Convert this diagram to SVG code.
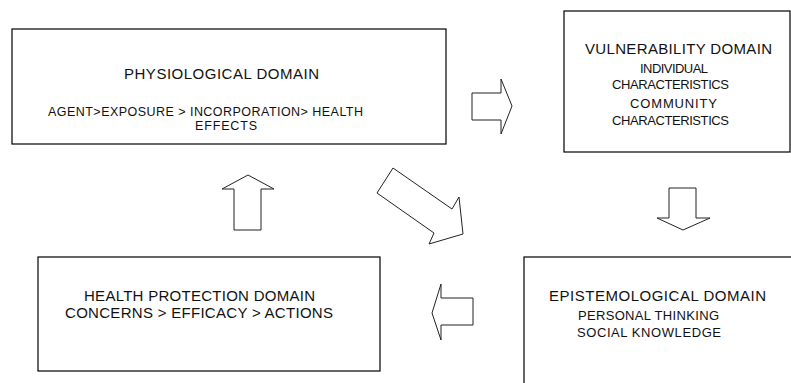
<svg xmlns="http://www.w3.org/2000/svg" width="791" height="383" viewBox="0 0 791 383">
<style>
.box{fill:#fff;stroke:#000;stroke-width:1.2}
.arr{fill:#fff;stroke:#222;stroke-width:1}
text{font-family:"Liberation Sans",Arial,sans-serif;fill:#111}
.t1{font-size:15px}
.t2{font-size:12.5px}
.t3{font-size:13px}
</style>
<rect width="791" height="383" fill="#fff"/>
<g id="physiological">
<rect class="box" x="12" y="29" width="434" height="115"/>
<text class="t1" x="124" y="79" textLength="195" lengthAdjust="spacing">PHYSIOLOGICAL DOMAIN</text>
<text class="t2" x="48" y="116" textLength="315" lengthAdjust="spacing">AGENT&gt;EXPOSURE &gt; INCORPORATION&gt; HEALTH</text>
<text class="t2" x="195" y="130" textLength="62" lengthAdjust="spacing">EFFECTS</text>
</g>
<g id="vulnerability">
<rect class="box" x="564" y="11" width="226" height="141"/>
<text class="t1" x="585" y="54" textLength="187" lengthAdjust="spacing">VULNERABILITY DOMAIN</text>
<text class="t3" x="640" y="73" textLength="68" lengthAdjust="spacing">INDIVIDUAL</text>
<text class="t3" x="612" y="89" textLength="117" lengthAdjust="spacing">CHARACTERISTICS</text>
<text class="t3" x="630" y="108" textLength="87" lengthAdjust="spacing">COMMUNITY</text>
<text class="t3" x="612" y="125" textLength="117" lengthAdjust="spacing">CHARACTERISTICS</text>
</g>
<g id="health-protection">
<rect class="box" x="38" y="257" width="342" height="114"/>
<text class="t1" x="84" y="301" textLength="231" lengthAdjust="spacing">HEALTH PROTECTION DOMAIN</text>
<text class="t1" x="65" y="318" textLength="268" lengthAdjust="spacing">CONCERNS &gt; EFFICACY &gt; ACTIONS</text>
</g>
<g id="epistemological">
<rect class="box" x="524" y="257" width="280" height="140"/>
<text class="t1" x="549" y="301" textLength="217" lengthAdjust="spacing">EPISTEMOLOGICAL DOMAIN</text>
<text class="t3" x="578" y="320" textLength="141" lengthAdjust="spacing">PERSONAL THINKING</text>
<text class="t3" x="577" y="337" textLength="144" lengthAdjust="spacing">SOCIAL KNOWLEDGE</text>
</g>
<g id="connectors">
<polygon class="arr" points="472,93 501,93 501,79 512,106 501,134 501,120 472,120"/>
<polygon class="arr" points="669,188 696,188 696,218 710,218 683,230 657,218 669,218"/>
<polygon class="arr" points="473,298 441,298 441,284 432,313 441,340 441,325 473,325"/>
<polygon class="arr" points="234,230 261,230 261,189 274,189 248,175 222,189 234,189"/>
<polygon class="arr" points="393,168 452,209 459,197 463,234 429,244 434,233 377,193"/>
</g>
</svg>
